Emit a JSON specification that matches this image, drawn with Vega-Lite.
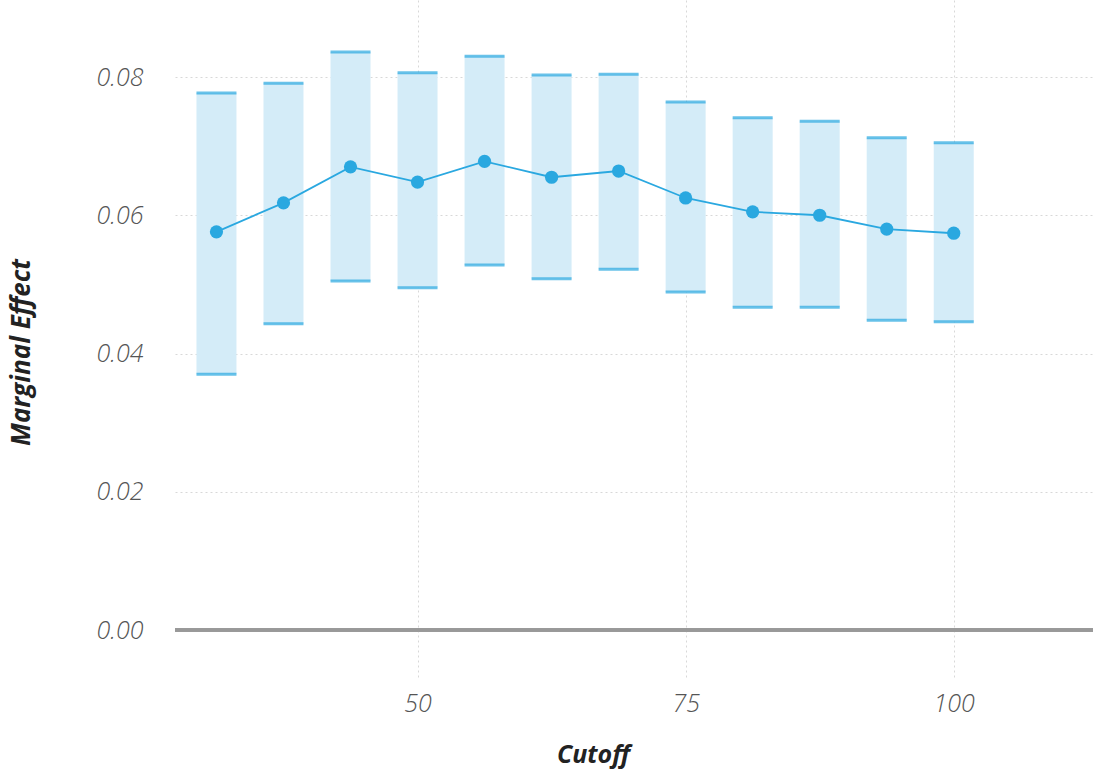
{
  "$schema": "https://vega.github.io/schema/vega-lite/v6.json",
  "width": 918,
  "height": 680,
  "autosize": "none",
  "padding": {"left": 175, "top": 0, "right": 0, "bottom": 96},
  "background": "white",
  "config": {
    "view": {"stroke": null},
    "font": "Open Sans"
  },
  "data": {
    "values": [
      {"cutoff": 31.25, "estimate": 0.0576, "lower": 0.0370, "upper": 0.0777},
      {"cutoff": 37.5, "estimate": 0.0618, "lower": 0.0443, "upper": 0.0791},
      {"cutoff": 43.75, "estimate": 0.0670, "lower": 0.0505, "upper": 0.0836},
      {"cutoff": 50, "estimate": 0.0648, "lower": 0.0495, "upper": 0.0806},
      {"cutoff": 56.25, "estimate": 0.0678, "lower": 0.0528, "upper": 0.0830},
      {"cutoff": 62.5, "estimate": 0.0655, "lower": 0.0508, "upper": 0.0803},
      {"cutoff": 68.75, "estimate": 0.0664, "lower": 0.0522, "upper": 0.0804},
      {"cutoff": 75, "estimate": 0.0625, "lower": 0.0489, "upper": 0.0764},
      {"cutoff": 81.25, "estimate": 0.0605, "lower": 0.0467, "upper": 0.0741},
      {"cutoff": 87.5, "estimate": 0.0600, "lower": 0.0467, "upper": 0.0736},
      {"cutoff": 93.75, "estimate": 0.0580, "lower": 0.0448, "upper": 0.0712},
      {"cutoff": 100, "estimate": 0.0574, "lower": 0.0446, "upper": 0.0705}
    ]
  },
  "layer": [
    {
      "mark": {"type": "bar", "color": "#d4ecf8", "size": 40},
      "encoding": {
        "x": {
          "field": "cutoff", "type": "quantitative",
          "scale": {"domain": [27.85, 112.52], "nice": false, "zero": false},
          "axis": {
            "values": [50, 75, 100],
            "title": "Cutoff",
            "titleFont": "Open Sans", "titleFontSize": 25, "titleFontWeight": "bold", "titleFontStyle": "italic", "titleColor": "#222",
            "titleX": 418, "titleY": 62,
            "labelFont": "Open Sans", "labelFontSize": 25, "labelFontStyle": "italic", "labelFontWeight": 300, "labelColor": "#555",
            "labelPadding": 11,
            "domain": false, "ticks": false,
            "grid": true, "gridColor": "#d8d8d8", "gridDash": [2, 3], "gridWidth": 1
          }
        },
        "y": {
          "field": "lower", "type": "quantitative",
          "scale": {"domain": [-0.00723, 0.09114], "nice": false, "zero": false},
          "axis": {
            "values": [0, 0.02, 0.04, 0.06, 0.08],
            "format": ".2f",
            "title": "Marginal Effect",
            "titleFont": "Open Sans", "titleFontSize": 26, "titleFontWeight": "bold", "titleFontStyle": "italic", "titleColor": "#222",
            "titleX": -141, "titleY": 352,
            "labelFont": "Open Sans", "labelFontSize": 25, "labelFontStyle": "italic", "labelFontWeight": 300, "labelColor": "#555",
            "labelPadding": 32,
            "domain": false, "ticks": false,
            "grid": true, "gridColor": "#d8d8d8", "gridDash": [2, 3], "gridWidth": 1
          }
        },
        "y2": {"field": "upper"}
      }
    },
    {
      "mark": {"type": "rule", "color": "#999999", "strokeWidth": 3},
      "encoding": {"y": {"datum": 0, "type": "quantitative"}}
    },
    {
      "mark": {"type": "tick", "color": "#2aa8e0", "size": 40, "thickness": 3, "orient": "horizontal"},
      "encoding": {
        "x": {"field": "cutoff", "type": "quantitative"},
        "y": {"field": "upper", "type": "quantitative"}
      }
    },
    {
      "mark": {"type": "tick", "color": "#2aa8e0", "size": 40, "thickness": 3, "orient": "horizontal"},
      "encoding": {
        "x": {"field": "cutoff", "type": "quantitative"},
        "y": {"field": "lower", "type": "quantitative"}
      }
    },
    {
      "mark": {"type": "line", "color": "#2aa8e0", "strokeWidth": 1.8},
      "encoding": {
        "x": {"field": "cutoff", "type": "quantitative"},
        "y": {"field": "estimate", "type": "quantitative"}
      }
    },
    {
      "mark": {"type": "circle", "color": "#2aa8e0", "size": 175, "opacity": 1},
      "encoding": {
        "x": {"field": "cutoff", "type": "quantitative"},
        "y": {"field": "estimate", "type": "quantitative"}
      }
    }
  ]
}
